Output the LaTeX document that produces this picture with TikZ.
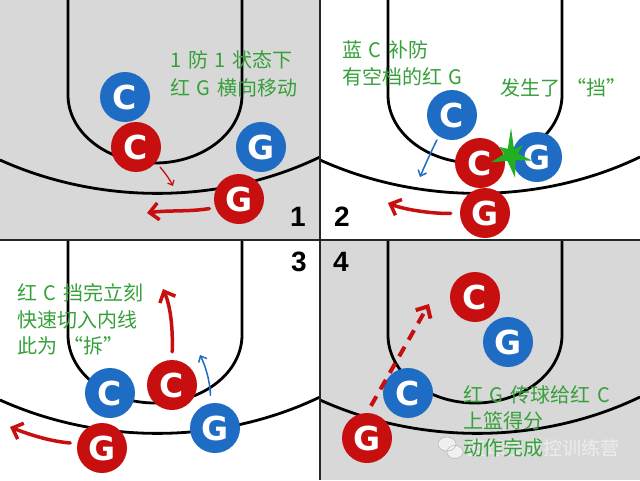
\documentclass[tikz,border=0pt]{standalone}
\usepackage{fontspec}
\setmainfont{DejaVu Sans}
\newfontfamily\cjk[WordSpace=1.5]{Noto Sans CJK SC}
\newfontfamily\numf{Liberation Sans}
\usetikzlibrary{arrows.meta}
\definecolor{rc}{HTML}{C80F0F}
\definecolor{bc}{HTML}{1E6CC3}
\definecolor{gt}{HTML}{36A03A}
\definecolor{bgg}{HTML}{D8D8D8}
\definecolor{st}{HTML}{22B022}
\newcommand\courtat[2]{%
  \begin{scope}[shift={(#1,#2)}]
    \draw[court] (68,0) -- (68,95) .. controls (68,132.6) and (107,163) .. (155,163)
      .. controls (203,163) and (242,132.6) .. (242,95) -- (242,0);
    \draw[court] (0,160) .. controls (100,205) and (220,205) .. (320,157);
  \end{scope}}
\begin{document}
\begin{tikzpicture}[x=1pt,y=-1pt,
  court/.style={line width=2.8pt, black, line cap=butt},
  player/.style={circle, minimum size=50pt, inner sep=0pt, text=white,
    font=\bfseries\fontsize{33}{33}\selectfont},
  redp/.style={player, fill=rc},
  bluep/.style={player, fill=bc},
  gtext/.style={text=gt, font=\cjk\fontsize{20}{26}\selectfont, anchor=base west, inner sep=0pt},
  num/.style={font=\numf\bfseries\fontsize{28}{28}\selectfont, inner sep=0pt},
  redarrow/.style={draw=rc, line width=3.5pt, line cap=round,
    -{Straight Barb[length=9pt,width=17pt]}},
  thinred/.style={draw=rc, line width=1.3pt, line cap=round,
    -{Straight Barb[length=4pt,width=7pt]}},
  thinblue/.style={draw=bc, line width=1.5pt, line cap=round,
    -{Straight Barb[length=5pt,width=9pt]}},
  wmark/.style={text=white!88!gray, font=\cjk\fontsize{19}{19}\selectfont, anchor=base west, inner sep=0pt}
]
\useasboundingbox (0,0) rectangle (640,480);
% backgrounds
\fill[bgg] (0,0) rectangle (320,240);
\fill[white] (320,0) rectangle (640,240);
\fill[white] (0,240) rectangle (320,480);
\fill[bgg] (320,240) rectangle (640,480);
% courts
\courtat{0}{0}
\courtat{320}{0}
\courtat{0}{240}
\courtat{320}{240}
% dividers
\draw[line width=1.5pt, black!85] (320,0) -- (320,480);
\draw[line width=1.5pt, black!85] (0,240) -- (640,240);

% ---------- panel 1 ----------
\node[gtext] (t1a) at (170,67) {1 防 1 状态下};
\node[gtext] (t1b) at (170,95) {红 G 横向移动};
\node[bluep] (p1bC) at (125,97) {C};
\node[redp] (p1rC) at (136,147) {C};
\node[bluep] (p1bG) at (261,147) {G};
\node[redp] (p1rG) at (239,199) {G};
\coordinate (a1s) at (160,167);
\coordinate (a1e) at (173,186);
\draw[thinred] (a1s) .. controls (166,174) and (170,180) .. (a1e);
\coordinate (a1t) at (147,213);
\draw[redarrow, shorten <=6pt] (p1rG.200) .. controls (188,212) and (168,210) .. (a1t);
\node[num] (n1) at (298,217) {1};

% ---------- panel 2 ----------
\node[gtext] (t2a) at (342,57) {蓝 C 补防};
\node[gtext] (t2b) at (342,84) {有空档的红 G};
\node[gtext] (t2c) at (500,95) {发生了 “挡”};
\node[bluep] (p2bC) at (452,115) {C};
\node[redp] (p2rC) at (480,163) {C};
\node[bluep] (p2bG) at (537,157) {G};
\node[redp] (p2rG) at (485,213) {G};
\begin{scope}[shift={(511,155)}]
  \fill[st] (270:27) -- (295:7) -- (320:15) -- (347:7) -- (15:22) -- (48:7)
    -- (80:23) -- (120:7) -- (160:21) -- (188:7) -- (215:14) -- (243:7) -- cycle;
\end{scope}
\coordinate (a2e) at (420,177);
\draw[thinblue, shorten <=4pt] (p2bC.238) .. controls (431,152) and (425,165) .. (a2e);
\coordinate (a2t) at (388,203);
\draw[redarrow, shorten <=9pt] (p2rG.west) .. controls (435,214) and (405,210) .. (a2t);
\node[num] (n2) at (342,217) {2};

% ---------- panel 3 ----------
\node[gtext] (t3a) at (17,300) {红 C 挡完立刻};
\node[gtext] (t3b) at (17,327) {快速切入内线};
\node[gtext] (t3c) at (17,353) {此为 “拆”};
\node[bluep] (p3bC) at (110,393) {C};
\node[redp] (p3rC) at (172,385) {C};
\node[bluep] (p3bG) at (215,428) {G};
\node[redp] (p3rG) at (102,448) {G};
\coordinate (a3t) at (163,289);
\draw[redarrow, shorten <=8pt] (p3rC.north) .. controls (173,325) and (170,305) .. (a3t);
\coordinate (a3b) at (200,355);
\draw[thinblue, shorten <=8pt] (p3bG.100) .. controls (210,380) and (205,365) .. (a3b);
\coordinate (a3l) at (10,427);
\draw[redarrow, shorten <=7pt] (p3rG.170) .. controls (48,441) and (28,434) .. (a3l);
\node[num] (n3) at (299,262) {3};

% ---------- panel 4 ----------
\node[redp] (p4rC) at (475,297) {C};
\node[bluep] (p4bG) at (508,342) {G};
\node[bluep] (p4bC) at (408,393) {C};
\node[redp] (p4rG) at (367,438) {G};
\coordinate (a4t) at (429,304);
\draw[draw=rc, line width=4pt, dash pattern=on 11pt off 8pt,
  -{Straight Barb[length=9pt,width=17pt]}, shorten <=8pt] (p4rG.north) -- (a4t);
\node[gtext] (t4a) at (463,402) {红 G 传球给红 C};
\node[gtext] (t4b) at (463,428) {上篮得分};
% watermark
\begin{scope}[opacity=0.85]
  \fill[white!92!gray] (447,444) ellipse (9pt and 7pt);
  \fill[white!92!gray] (455,452) ellipse (8pt and 6.5pt);
  \draw[gray!60, line width=0.6pt] (447,444) ellipse (9pt and 7pt);
  \draw[gray!60, line width=0.6pt] (455,452) ellipse (8pt and 6.5pt);
\end{scope}
\node[wmark, opacity=0.9] (wm) at (467,455) {篮球技术控训练营};
\node[gtext] (t4c) at (463,455) {动作完成};
\node[num] (n4) at (341,262) {4};
\end{tikzpicture}
\end{document}
